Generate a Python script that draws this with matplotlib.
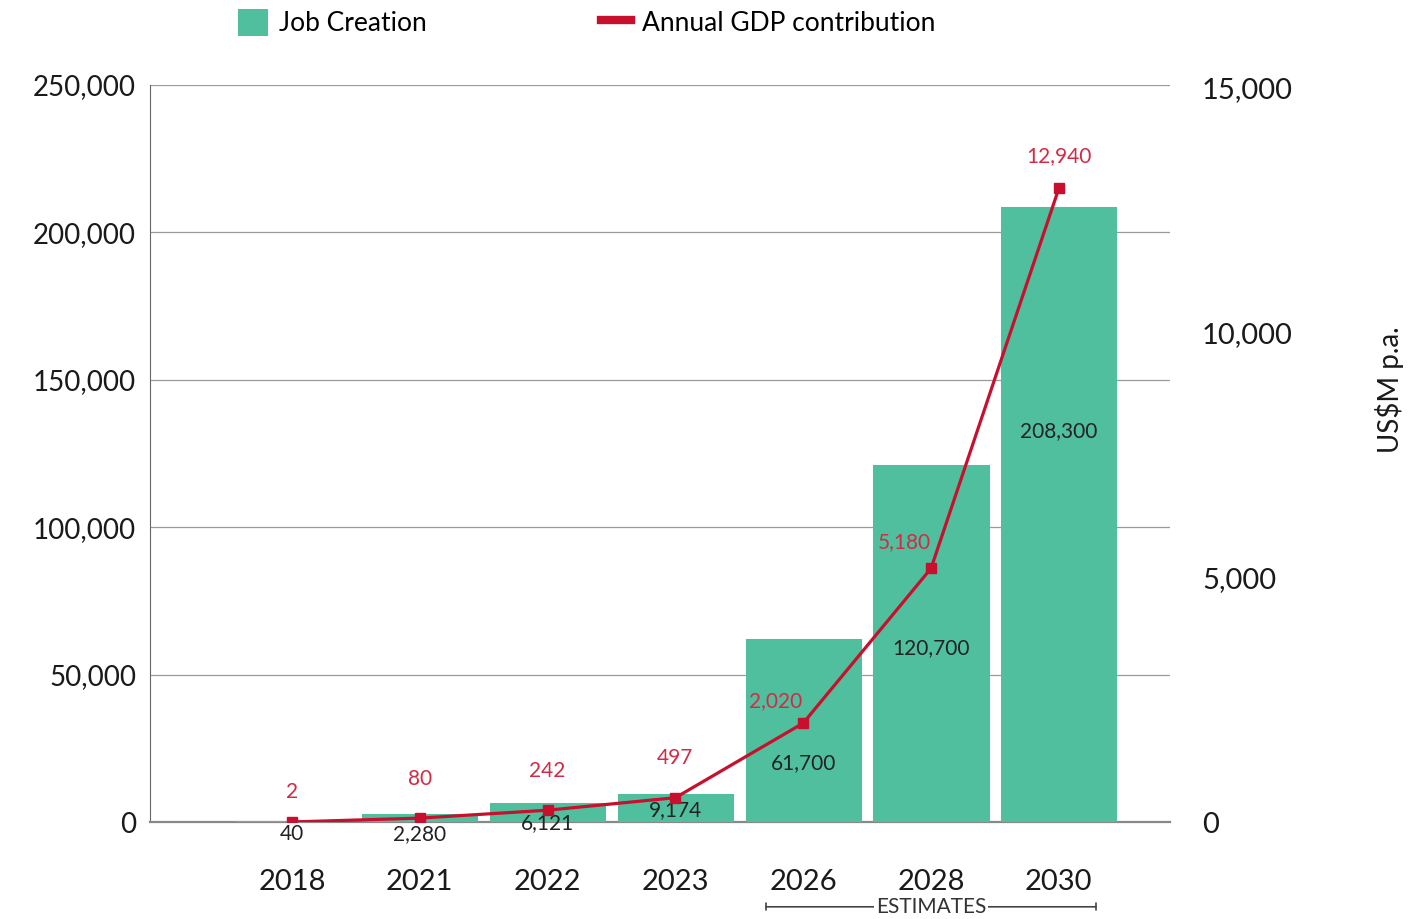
import matplotlib.pyplot as plt
import matplotlib.transforms as mtransforms
from matplotlib.patches import Patch
from matplotlib.lines import Line2D
from matplotlib.ticker import FuncFormatter

plt.rcParams['font.family'] = ['Lato', 'DejaVu Sans']

years = ['2018', '2021', '2022', '2023', '2026', '2028', '2030']
jobs = [40, 2280, 6121, 9174, 61700, 120700, 208300]
gdp = [2, 80, 242, 497, 2020, 5180, 12940]

# where the job labels sit (data units) and the gdp label offsets (pixels)
job_label_y = [-4070, -4070, -340, 4070, 20000, 59000, 132600]
gdp_label_dx = [0, 0, 0, 0, -28, -27, 0]
gdp_label_dy = [30, 39, 39, 40, 22, 26, 32]

green = '#50BF9E'
red = '#C8102E'
red_txt = '#D42A45'

fig = plt.figure(figsize=(14.25, 9.19), dpi=100)
ax = fig.add_axes([0.1053, 0.1055, 0.7158, 0.802])
x = range(len(years))

ax.bar(x, jobs, width=0.885, color=green, edgecolor=green, linewidth=2.2, zorder=3)
ax.set_ylim(0, 250000)
ax.set_xlim(-1.11, 6.87)
ax.set_yticks(range(0, 250001, 50000))
ax.yaxis.set_major_formatter(FuncFormatter(lambda v, p: f'{v:,.0f}'))
ax.grid(axis='y', color='#9a9a9a', linewidth=0.9, zorder=0)
ax.set_xticks(list(x))
ax.set_xticklabels(years)
ax.tick_params(axis='x', length=0, pad=34, labelsize=21, labelcolor='#1a1a1a')
ax.tick_params(axis='y', length=0, pad=10, labelsize=20, labelcolor='#1a1a1a')
for s in ['top', 'right']:
    ax.spines[s].set_visible(False)
ax.spines['left'].set_color('#666666')
ax.spines['bottom'].set_color('#888888')
ax.spines['bottom'].set_linewidth(1.6)

for i, (v, ly) in enumerate(zip(jobs, job_label_y)):
    ax.text(i, ly, f'{v:,}', ha='center', va='center', fontsize=15,
            color='#222222', zorder=5)

ax2 = ax.twinx()
ax2.set_ylim(0, 15050)
ax2.set_yticks([0, 5000, 10000, 15000])
ax2.yaxis.set_major_formatter(FuncFormatter(lambda v, p: f'{v:,.0f}'))
ax2.tick_params(axis='y', length=0, pad=23, labelsize=21, labelcolor='#1a1a1a')
for s in ax2.spines.values():
    s.set_visible(False)
ax2.plot(x, gdp, color=red, linewidth=2.3, marker='s', markersize=6.5, zorder=4)
for i, (v, dx, dy) in enumerate(zip(gdp, gdp_label_dx, gdp_label_dy)):
    ax2.annotate(f'{v:,}', (i, v), xytext=(dx, dy), textcoords='offset pixels',
                 ha='center', va='center', fontsize=15, color=red_txt)
ax2.set_ylabel(r'US\$M p.a.', fontsize=20, color='#1a1a1a')
ax2.yaxis.set_label_coords(1.201, 0.586)

# estimates bracket under the last three years
trans = mtransforms.blended_transform_factory(ax.transData, ax.transAxes)
ax.annotate('', xy=(3.71, -0.115), xytext=(6.29, -0.115), xycoords=trans,
            textcoords=trans, annotation_clip=False,
            arrowprops=dict(arrowstyle='|-|, widthA=0.25, widthB=0.25',
                            color='#444444', lw=1.2, shrinkA=0, shrinkB=0))
ax.text(5, -0.115, 'ESTIMATES', transform=trans, ha='center', va='center',
        fontsize=15, color='#333333', clip_on=False,
        bbox=dict(facecolor='white', edgecolor='none', pad=1))

handles = [Patch(facecolor=green, edgecolor='none', label='Job Creation'),
           Line2D([], [], color=red, linewidth=6, label='Annual GDP contribution')]
fig.legend(handles=handles, loc='center left', bbox_to_anchor=(0.167, 0.975),
           ncol=2, frameon=False, fontsize=19, handlelength=1.15,
           handleheight=1.15, handletextpad=0.4, columnspacing=6.6,
           borderaxespad=0, borderpad=0)

fig.savefig('out.png', dpi=100)
